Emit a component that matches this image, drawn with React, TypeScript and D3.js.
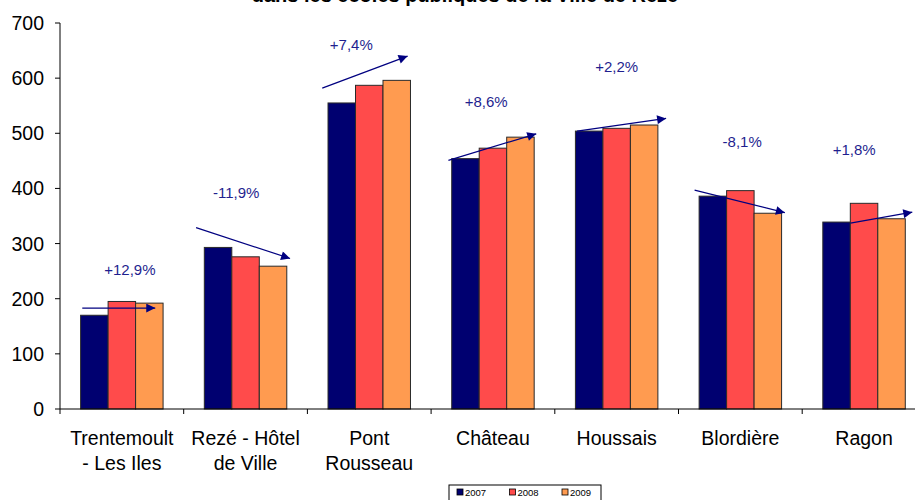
import React from "react";
import * as d3 from "d3";

const categories: string[][] = [
  ["Trentemoult", "- Les Iles"],
  ["Rezé - Hôtel", "de Ville"],
  ["Pont", "Rousseau"],
  ["Château"],
  ["Houssais"],
  ["Blordière"],
  ["Ragon"],
];
const years = ["2007", "2008", "2009"];
const values2007 = [170, 293, 555, 454, 504, 386, 339];
const values2008 = [195, 276, 587, 473, 509, 396, 373];
const values2009 = [192, 259, 596, 493, 515, 355, 345];
const yearColors = ["#000070", "#FF4B4B", "#FF9B50"];

const changeLabels = ["+12,9%", "-11,9%", "+7,4%", "+8,6%", "+2,2%", "-8,1%", "+1,8%"];
const labelValues = [252, 392, 661, 558, 621, 485, 471];
const labelOffsets = [0.065, -0.075, -0.145, -0.055, 0, 0.015, -0.08];
const arrowFromValues = [183, 329, 582, 451, 504, 397, 337];
const arrowToValues = [183, 273, 640, 499, 527, 356, 357];
const arrowFromOffsets = [-0.32, -0.4, -0.38, -0.36, -0.32, -0.37, -0.11];
const arrowToOffsets = [0.27, 0.36, 0.31, 0.35, 0.4, 0.36, 0.39];
const yTicks = [0, 100, 200, 300, 400, 500, 600, 700];

const titleText = "dans les écoles publiques de la Ville de Rezé";

export default function App() {
  const W = 915;
  const H = 500;
  const left = 60;
  const step = 123.7;
  const x = d3
    .scaleBand<number>()
    .domain(categories.map((_, i) => i))
    .range([left, left + step * categories.length])
    .padding(0);
  const inner = d3
    .scaleBand<string>()
    .domain(years)
    .range([0, x.bandwidth()])
    .paddingInner(0)
    .paddingOuter(0.75);
  const y = d3.scaleLinear().domain([0, 700]).range([409, 23]);
  const series = [values2007, values2008, values2009];
  const font = "'Liberation Sans', Arial, sans-serif";
  const arrowColor = "#000080";
  const labelColor = "#1f1f8f";

  return (
    <svg
      width={W}
      height={H}
      style={{ position: "absolute", left: 0, top: 0, background: "#fff" }}
      fontFamily={font}
    >
      <defs>
        <marker
          id="arrowhead"
          viewBox="0 0 10 10"
          refX="10"
          refY="5"
          markerUnits="userSpaceOnUse"
          markerWidth="11"
          markerHeight="9"
          orient="auto"
        >
          <path d="M0,0 L10,5 L0,10 Z" fill={arrowColor} />
        </marker>
      </defs>
      <rect x={0} y={0} width={W} height={H} fill="#fff" />
      <text x={465} y={2} textAnchor="middle" fontSize={20} fontWeight="bold" fill="#000">
        {titleText}
      </text>

      {/* bars */}
      {categories.map((_, i) =>
        series.map((vals, s) => {
          const bx = (x(i) as number) + (inner(years[s]) as number);
          const by = y(vals[i]);
          return (
            <rect
              key={`b${i}-${s}`}
              x={bx}
              y={by}
              width={inner.bandwidth()}
              height={y(0) - by}
              fill={yearColors[s]}
              stroke="#2a2a2a"
              strokeWidth={1}
            />
          );
        })
      )}

      {/* axes */}
      <line x1={left} x2={left} y1={y(700)} y2={y(0)} stroke="#000" strokeWidth={1} />
      {yTicks.map((t) => (
        <g key={`yt${t}`}>
          <line x1={left - 5} x2={left} y1={y(t)} y2={y(t)} stroke="#000" />
          <text x={44} y={y(t)} dy="0.36em" textAnchor="end" fontSize={19.5} fill="#000">
            {t}
          </text>
        </g>
      ))}
      <line x1={left} x2={left + step * categories.length} y1={y(0)} y2={y(0)} stroke="#000" />
      {d3.range(categories.length + 1).map((i) => (
        <line
          key={`xt${i}`}
          x1={left + i * step}
          x2={left + i * step}
          y1={y(0)}
          y2={y(0) + 5}
          stroke="#000"
        />
      ))}
      {categories.map((lines, i) => (
        <text
          key={`cl${i}`}
          x={(x(i) as number) + x.bandwidth() / 2}
          y={445}
          textAnchor="middle"
          fontSize={19.5}
          fill="#000"
        >
          {lines.map((l, k) => (
            <tspan key={k} x={(x(i) as number) + x.bandwidth() / 2} dy={k === 0 ? 0 : 25}>
              {l}
            </tspan>
          ))}
        </text>
      ))}

      {/* arrows */}
      {categories.map((_, i) => {
        const cx = (x(i) as number) + x.bandwidth() / 2;
        return (
          <line
            key={`ar${i}`}
            x1={cx + arrowFromOffsets[i] * step}
            y1={y(arrowFromValues[i])}
            x2={cx + arrowToOffsets[i] * step}
            y2={y(arrowToValues[i])}
            stroke={arrowColor}
            strokeWidth={1.2}
            markerEnd="url(#arrowhead)"
          />
        );
      })}
      {categories.map((_, i) => {
        const cx = (x(i) as number) + x.bandwidth() / 2;
        return (
          <text
            key={`lab${i}`}
            x={cx + labelOffsets[i] * step}
            y={y(labelValues[i])}
            dy="0.36em"
            textAnchor="middle"
            fontSize={15}
            fill={labelColor}
          >
            {changeLabels[i]}
          </text>
        );
      })}

      {/* legend */}
      <rect x={449} y={485} width={152} height={30} fill="#fff" stroke="#000" strokeWidth={1} />
      {years.map((yr, s) => (
        <g key={`lg${yr}`} transform={`translate(${457 + s * 52.5},0)`}>
          <rect x={0} y={489} width={6} height={6} fill={yearColors[s]} stroke="#000" strokeWidth={0.8} />
          <text x={8} y={496} fontSize={9.5} fill="#000">
            {yr}
          </text>
        </g>
      ))}
    </svg>
  );
}
